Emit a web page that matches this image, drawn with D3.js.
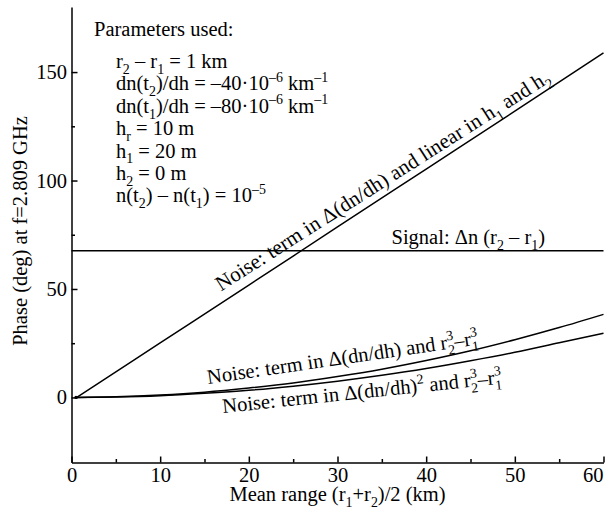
<!DOCTYPE html>
<html><head><meta charset="utf-8">
<script src="https://cdn.jsdelivr.net/npm/d3@7"></script>
<style>
body{margin:0;background:#fff;}
svg{display:block;}
svg text{font-family:"Liberation Serif","Times New Roman",serif;fill:#000;}
</style></head>
<body><svg id="chart" width="607" height="510"></svg>
<script>
// ---- data ----
const xDomain = [0, 60];
const yDomain = [-30, 180];
const xMajorTicks = [0, 10, 20, 30, 40, 50, 60];
const xMinorTicks = [5, 15, 25, 35, 45, 55];
const yMajorTicks = [0, 50, 100, 150];
const yMinorTicks = [25, 75, 125];

const signalValue = 67.6;

const linX = [0.6, 10, 20, 30, 40, 50, 60];
const linY = [0, 25.1, 51.8, 78.6, 105.3, 132.0, 158.8];

const cubX = [0.5, 5, 10, 15, 20, 25, 30, 35, 40, 45, 50, 55, 60];
const cub1Y = [0, 0.3, 1.1, 2.4, 4.3, 6.6, 9.6, 13.0, 17.0, 21.5, 26.6, 32.2, 38.3];
const cub2Y = [0, 0.2, 0.8, 1.9, 3.3, 5.2, 7.5, 10.2, 13.3, 16.9, 20.8, 25.2, 29.6];

const paramTitle = "Parameters used:";
const paramLines = [
  "r_{2} – r_{1} = 1 km",
  "dn(t_{2})/dh = –40·10^{–6} km^{–1}",
  "dn(t_{1})/dh = –80·10^{–6} km^{–1}",
  "h_{r} = 10 m",
  "h_{1} = 20 m",
  "h_{2} = 0 m",
  "n(t_{2}) – n(t_{1}) = 10^{–5}"
];
const labelSignal = "Signal: Δn (r_{2} – r_{1})";
const labelLin = "Noise: term in Δ(dn/dh) and linear in h_{1} and h_{2}";
const labelCub1 = "Noise: term in Δ(dn/dh) and r_{2}@{3}–r_{1}@{3}";
const labelCub2 = "Noise: term in Δ(dn/dh)^{2} and r_{2}@{3}–r_{1}@{3}";
const xTitle = "Mean range (r_{1}+r_{2})/2 (km)";
const yTitle = "Phase (deg) at f=2.809 GHz";

// ---- layout ----
const svg = d3.select("#chart");
const mLeft = 71.5, mRight = 603.5, mTop = 7, mBottom = 462.5;
const x = d3.scaleLinear().domain(xDomain).range([mLeft, mRight]);
const y = d3.scaleLinear().domain(yDomain).range([mBottom, mTop]);

// rich text helper: _{sub}, ^{sup}, @{sup stacked over previous sub}
function rich(textSel, str, fs) {
  const re = /([_^@])\{([^}]*)\}|([^_^@]+)/g;
  let m, shift = 0, lastSubLen = 0;
  while ((m = re.exec(str)) !== null) {
    if (m[3] !== undefined) {
      textSel.append("tspan").attr("dy", -shift).text(m[3]);
      shift = 0;
    } else {
      const kind = m[1], content = m[2];
      const sfs = fs * 0.68;
      let target = kind === "_" ? fs * 0.28 : -fs * 0.42;
      const t = textSel.append("tspan").attr("font-size", sfs).attr("dy", target - shift).text(content);
      if (kind === "@") t.attr("dx", -lastSubLen * sfs * 0.5);
      if (kind === "_") lastSubLen = content.length;
      shift = target;
    }
  }
}

// ---- axes ----
const lw = 1.5;
const fsT = 20.5;
const xAxis = svg.append("g").attr("transform", `translate(0,${mBottom})`)
  .call(d3.axisBottom(x).tickValues(xMajorTicks).tickSizeInner(-6).tickSizeOuter(0).tickPadding(4).tickFormat(d3.format("d")));
const xMinor = svg.append("g").attr("transform", `translate(0,${mBottom})`)
  .call(d3.axisBottom(x).tickValues(xMinorTicks).tickSizeInner(-3.5).tickSizeOuter(0).tickFormat(""));
xMinor.select(".domain").remove();
const yAxis = svg.append("g").attr("transform", `translate(${mLeft},0)`)
  .call(d3.axisLeft(y).tickValues(yMajorTicks).tickSizeInner(-6).tickSizeOuter(0).tickPadding(4.5).tickFormat(d3.format("d")));
const yMinor = svg.append("g").attr("transform", `translate(${mLeft},0)`)
  .call(d3.axisLeft(y).tickValues(yMinorTicks).tickSizeInner(-3.5).tickSizeOuter(0).tickFormat(""));
yMinor.select(".domain").remove();
svg.selectAll(".domain").attr("stroke", "#000").attr("stroke-width", lw);
svg.selectAll(".tick line").attr("stroke", "#000").attr("stroke-width", lw);
svg.selectAll("g").attr("font-family", null).attr("font-size", null);
svg.selectAll(".tick text").attr("font-size", fsT).attr("fill", "#000");
xAxis.selectAll(".tick text").attr("dy", "0.74em");
// keep last x label inside the picture, as in the reference
xAxis.selectAll(".tick text").filter(d => d === xDomain[1]).attr("text-anchor", "end").attr("x", 603 - x(xDomain[1]));

// ---- lines ----
const line = d3.line().x(d => x(d[0])).y(d => y(d[1])).curve(d3.curveMonotoneX);
const mk = (xs, ys) => xs.map((v, i) => [v, ys[i]]);
svg.append("line").attr("x1", x(xDomain[0])).attr("x2", x(xDomain[1]))
  .attr("y1", y(signalValue)).attr("y2", y(signalValue)).attr("stroke", "#000").attr("stroke-width", lw);
[mk(linX, linY), mk(cubX, cub1Y), mk(cubX, cub2Y)].forEach(d => {
  svg.append("path").datum(d).attr("d", line).attr("fill", "none").attr("stroke", "#000").attr("stroke-width", lw);
});
svg.append("circle").attr("cx", x(cubX[0])).attr("cy", y(0)).attr("r", 1.6).attr("fill", "#000");

// ---- parameter box ----
const fsP = 20.5;
const tt = svg.append("text").attr("x", 94).attr("y", 36).attr("font-size", fsP);
rich(tt, paramTitle, fsP);
paramLines.forEach((s, i) => {
  const t = svg.append("text").attr("x", 116).attr("y", 68 + i * 22.4).attr("font-size", fsP);
  rich(t, s, fsP);
});

// ---- curve labels ----
const fsL = 20.5;
const ts = svg.append("text").attr("x", 391.5).attr("y", 244).attr("font-size", fsL);
rich(ts, labelSignal, fsL);

const tl = svg.append("text").attr("transform", `translate(221,291.5) rotate(-32.5)`).attr("font-size", 21);
rich(tl, labelLin, 21);

const tc1 = svg.append("text").attr("transform", `translate(208,384) rotate(-8.3)`).attr("font-size", fsL);
rich(tc1, labelCub1, fsL);
const tc2 = svg.append("text").attr("transform", `translate(223,413) rotate(-6)`).attr("font-size", fsL);
rich(tc2, labelCub2, fsL);

// ---- axis titles ----
const xt = svg.append("text").attr("x", (mLeft + mRight) / 2).attr("y", 501).attr("text-anchor", "middle").attr("font-size", fsT);
rich(xt, xTitle, fsT);
svg.append("text").attr("transform", `translate(27,231) rotate(-90)`).attr("text-anchor", "middle").attr("font-size", fsT).text(yTitle);
</script></body></html>
